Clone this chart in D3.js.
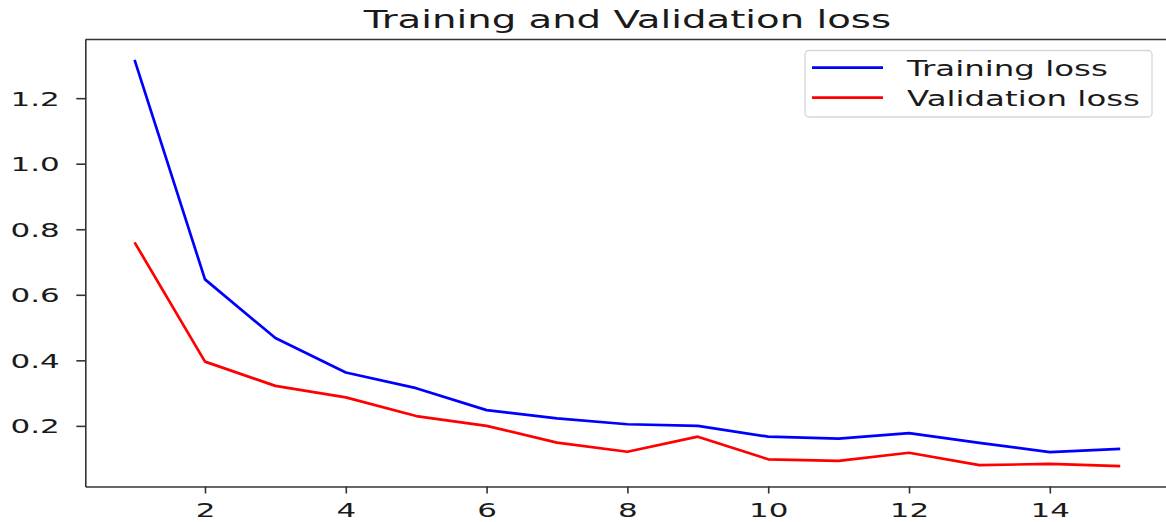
<!DOCTYPE html>
<html>
<head>
<meta charset="utf-8">
<script src="https://cdn.jsdelivr.net/npm/d3@7"></script>
<style>
  html, body { margin: 0; padding: 0; background: #fff; }
  svg { display: block; font-family: "DejaVu Sans", sans-serif; }
</style>
</head>
<body>
<svg id="chart" width="1166" height="522"></svg>
<script>
const epochs = [1, 2, 3, 4, 5, 6, 7, 8, 9, 10, 11, 12, 13, 14, 15];
const trainingLoss = [1.317, 0.647, 0.468, 0.363, 0.315, 0.248, 0.223, 0.205, 0.200, 0.167, 0.161, 0.178, 0.148, 0.120, 0.130];
const validationLoss = [0.760, 0.396, 0.322, 0.287, 0.230, 0.200, 0.149, 0.121, 0.167, 0.098, 0.093, 0.118, 0.080, 0.084, 0.077];
const xTicks = [2, 4, 6, 8, 10, 12, 14];
const yTicks = [0.2, 0.4, 0.6, 0.8, 1.0, 1.2];
const seriesNames = ["Training loss", "Validation loss"];
const seriesColors = ["#0000ff", "#ff0000"];
const titleText = "Training and Validation loss";

const SX = 1.59; // horizontal stretch of the text in the picture
const svg = d3.select("#chart");
const plotLeft = 85.3, plotRight = 1169.5, plotTop = 39.5, plotBottom = 486.5;

const xExt = d3.extent(epochs);
const xPad = (xExt[1] - xExt[0]) * 0.05;
const x = d3.scaleLinear().domain([xExt[0] - xPad, xExt[1] + xPad]).range([plotLeft, plotRight]);
const allY = trainingLoss.concat(validationLoss);
const yExt = d3.extent(allY);
const yPad = (yExt[1] - yExt[0]) * 0.05;
const y = d3.scaleLinear().domain([yExt[0] - yPad, yExt[1] + yPad]).range([plotBottom, plotTop]);

// lines
const line = d3.line().x(d => x(d[0])).y(d => y(d[1]));
[trainingLoss, validationLoss].forEach((vals, i) => {
  svg.append("path")
    .datum(epochs.map((e, j) => [e, vals[j]]))
    .attr("d", line)
    .attr("fill", "none")
    .attr("stroke", seriesColors[i])
    .attr("stroke-width", 2.7)
    .attr("stroke-linejoin", "round")
    .attr("stroke-linecap", "butt");
});

// axes
const xAxis = svg.append("g").attr("transform", `translate(0,${plotBottom})`)
  .call(d3.axisBottom(x).tickValues(xTicks).tickFormat(d3.format("d")).tickSizeInner(7).tickSizeOuter(0));
const yAxis = svg.append("g").attr("transform", `translate(${plotLeft},0)`)
  .call(d3.axisLeft(y).tickValues(yTicks).tickFormat(d3.format(".1f")).tickSizeInner(9).tickSizeOuter(0));

[xAxis, yAxis].forEach(g => {
  g.select(".domain").attr("stroke", "#333").attr("stroke-width", 1.6);
  g.selectAll(".tick line").attr("stroke", "#333").attr("stroke-width", 1.6);
  g.selectAll(".tick text")
    .attr("fill", "#1a1a1a")
    .style("font-family", "DejaVu Sans")
    .style("font-size", "19.5px");
});
xAxis.selectAll(".tick text").attr("y", 30.5).attr("dy", "0").attr("x", 0)
  .attr("transform", `scale(${SX},1)`);
yAxis.selectAll(".tick text").attr("x", -25.5 / SX).attr("dy", "0.36em")
  .attr("transform", `scale(${SX},1)`);

// top spine
svg.append("line").attr("x1", plotLeft).attr("x2", plotRight).attr("y1", plotTop).attr("y2", plotTop)
  .attr("stroke", "#333").attr("stroke-width", 1.6);

// title
svg.append("text")
  .attr("transform", `translate(${(plotLeft + plotRight) / 2},28) scale(${SX},1)`)
  .attr("text-anchor", "middle")
  .style("font-size", "24.3px")
  .attr("fill", "#1a1a1a")
  .text(titleText);

// legend
const lg = svg.append("g");
lg.append("rect").attr("x", 805).attr("y", 50.5).attr("width", 347).attr("height", 66.5)
  .attr("rx", 4).attr("fill", "#fff").attr("fill-opacity", 0.8)
  .attr("stroke", "#d6d6d6").attr("stroke-width", 1.3);
seriesNames.forEach((name, i) => {
  const cy = 67.7 + i * 30;
  lg.append("line").attr("x1", 812).attr("x2", 883).attr("y1", cy).attr("y2", cy)
    .attr("stroke", seriesColors[i]).attr("stroke-width", 2.7);
  lg.append("text")
    .attr("transform", `translate(907,${cy + 8.5}) scale(${SX},1)`)
    .style("font-size", "20.4px")
    .attr("fill", "#1a1a1a")
    .text(name);
});
</script>
</body>
</html>
